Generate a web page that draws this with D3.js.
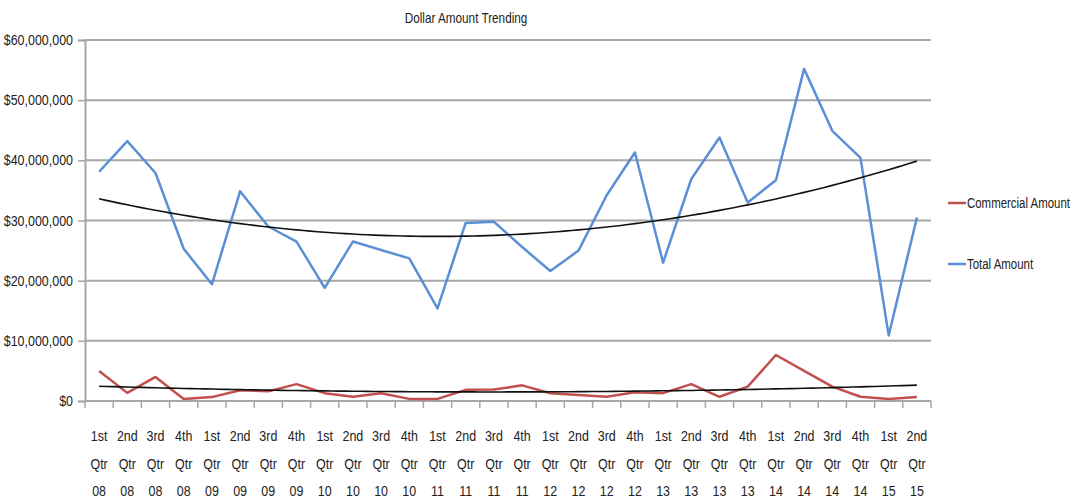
<!DOCTYPE html>
<html>
<head>
<meta charset="utf-8">
<script src="https://cdn.jsdelivr.net/npm/d3@7"></script>
<style>
  body { margin: 0; background: #fff; }
  svg { display: block; font-family: "Liberation Sans", Arial, sans-serif; }
</style>
</head>
<body>
<div id="chart"></div>
<script>
// quarters on the x axis
const categories = [
  '1st Qtr 08', '2nd Qtr 08', '3rd Qtr 08', '4th Qtr 08',
  '1st Qtr 09', '2nd Qtr 09', '3rd Qtr 09', '4th Qtr 09',
  '1st Qtr 10', '2nd Qtr 10', '3rd Qtr 10', '4th Qtr 10',
  '1st Qtr 11', '2nd Qtr 11', '3rd Qtr 11', '4th Qtr 11',
  '1st Qtr 12', '2nd Qtr 12', '3rd Qtr 12', '4th Qtr 12',
  '1st Qtr 13', '2nd Qtr 13', '3rd Qtr 13', '4th Qtr 13',
  '1st Qtr 14', '2nd Qtr 14', '3rd Qtr 14', '4th Qtr 14',
  '1st Qtr 15', '2nd Qtr 15'
];

// dollar amounts, in millions
const commercialAmount = [
  5.0, 1.35, 4.0, 0.35, 0.65, 1.8, 1.6, 2.8, 1.3, 0.7,
  1.3, 0.35, 0.35, 1.85, 1.9, 2.6, 1.3, 1.0, 0.7, 1.45,
  1.3, 2.8, 0.7, 2.4, 7.65, 5.0, 2.4, 0.7, 0.35, 0.65
];
const totalAmount = [
  38.1, 43.2, 37.9, 25.3, 19.4, 34.85, 29.0, 26.5, 18.8, 26.5,
  25.1, 23.7, 15.4, 29.6, 29.8, 25.6, 21.6, 25.0, 34.2, 41.3,
  23.0, 36.9, 43.8, 33.0, 36.7, 55.2, 44.9, 40.4, 10.9, 30.5
];

const yTicks = [0, 10, 20, 30, 40, 50, 60];

const series = [
  { name: 'Commercial Amount', values: commercialAmount, color: '#c0504d' },
  { name: 'Total Amount', values: totalAmount, color: '#5b8fd6' }
];

const width = 1075;
const height = 500;
const plot = { left: 85, right: 931, top: 40, bottom: 401 };
const squeeze = 0.86; // the original font is a condensed one

const svg = d3.select('#chart')
  .append('svg')
  .attr('width', width)
  .attr('height', height);

const x = d3.scaleBand().domain(categories).range([plot.left, plot.right]);
const y = d3.scaleLinear().domain([0, 60]).range([plot.bottom, plot.top]);
const cx = (c) => x(c) + x.bandwidth() / 2;

// continuous x for the trendlines (1..n)
const xt = d3.scaleLinear()
  .domain([1, categories.length])
  .range([cx(categories[0]), cx(categories[categories.length - 1])]);

// title
svg.append('text')
  .attr('transform', `translate(466,23) scale(0.84,1)`)
  .attr('text-anchor', 'middle')
  .attr('font-size', 14)
  .attr('fill', '#222')
  .text('Dollar Amount Trending');

// gridlines
svg.append('g')
  .selectAll('line')
  .data(yTicks)
  .enter()
  .append('line')
  .attr('x1', plot.left)
  .attr('x2', plot.right)
  .attr('y1', (d) => y(d))
  .attr('y2', (d) => y(d))
  .attr('stroke', '#a6a6a6')
  .attr('stroke-width', 2);

// y axis
const fmt = (d) => '$' + d3.format(',')(d * 1000000);
const yAxis = svg.append('g')
  .attr('transform', `translate(${plot.left},0)`)
  .call(d3.axisLeft(y).tickValues(yTicks).tickFormat(fmt).tickSize(7).tickPadding(4));
yAxis.select('.domain').attr('stroke', '#a6a6a6').attr('stroke-width', 2);
yAxis.selectAll('.tick line').attr('stroke', '#a6a6a6').attr('stroke-width', 1.5);
yAxis.selectAll('.tick text')
  .attr('font-size', 14.5)
  .attr('font-family', '"Liberation Sans", Arial, sans-serif')
  .attr('fill', '#222')
  .attr('x', -12 / squeeze)
  .attr('transform', `scale(${squeeze},1)`);

// x axis: ticks at the band edges
const edges = categories.map((c) => x(c)).concat([plot.right]);
const xAxis = svg.append('g');
xAxis.append('line')
  .attr('x1', plot.left)
  .attr('x2', plot.right)
  .attr('y1', plot.bottom)
  .attr('y2', plot.bottom)
  .attr('stroke', '#a6a6a6')
  .attr('stroke-width', 2);
xAxis.selectAll('.xtick')
  .data(edges)
  .enter()
  .append('line')
  .attr('class', 'xtick')
  .attr('x1', (d) => d)
  .attr('x2', (d) => d)
  .attr('y1', plot.bottom)
  .attr('y2', plot.bottom + 7)
  .attr('stroke', '#a6a6a6')
  .attr('stroke-width', 1.5);

const labels = xAxis.selectAll('.xlabel')
  .data(categories)
  .enter()
  .append('text')
  .attr('class', 'xlabel')
  .attr('transform', (d) => `translate(${cx(d)},0) scale(${squeeze},1)`)
  .attr('text-anchor', 'middle')
  .attr('font-size', 14.5)
  .attr('fill', '#222');
labels.selectAll('tspan')
  .data((d) => d.split(' '))
  .enter()
  .append('tspan')
  .attr('x', 0)
  .attr('y', (d, i) => 441 + i * 27.5)
  .text((d) => d);

// quadratic least-squares fit, like the spreadsheet's polynomial trendline
function polyFit(values) {
  const s = [0, 0, 0, 0, 0];
  const t = [0, 0, 0];
  values.forEach((v, i) => {
    const xi = i + 1;
    for (let k = 0; k < 5; k++) s[k] += Math.pow(xi, k);
    for (let k = 0; k < 3; k++) t[k] += v * Math.pow(xi, k);
  });
  const A = [
    [s[0], s[1], s[2], t[0]],
    [s[1], s[2], s[3], t[1]],
    [s[2], s[3], s[4], t[2]]
  ];
  for (let i = 0; i < 3; i++) {
    for (let j = i + 1; j < 3; j++) {
      const f = A[j][i] / A[i][i];
      for (let k = i; k < 4; k++) A[j][k] -= f * A[i][k];
    }
  }
  const c = [0, 0, 0];
  for (let i = 2; i >= 0; i--) {
    let sum = A[i][3];
    for (let k = i + 1; k < 3; k++) sum -= A[i][k] * c[k];
    c[i] = sum / A[i][i];
  }
  return (xv) => c[0] + c[1] * xv + c[2] * xv * xv;
}

const line = d3.line()
  .x((d, i) => cx(categories[i]))
  .y((d) => y(d));

series.forEach((s) => {
  svg.append('path')
    .datum(s.values)
    .attr('fill', 'none')
    .attr('stroke', s.color)
    .attr('stroke-width', 2.5)
    .attr('stroke-linejoin', 'round')
    .attr('d', line);
});

// trendlines
const trendLine = d3.line()
  .x((d) => xt(d[0]))
  .y((d) => y(d[1]));
series.forEach((s) => {
  const f = polyFit(s.values);
  const pts = d3.range(1, categories.length + 0.001, 0.25).map((v) => [v, f(v)]);
  svg.append('path')
    .datum(pts)
    .attr('fill', 'none')
    .attr('stroke', '#111')
    .attr('stroke-width', 1.6)
    .attr('d', trendLine);
});

// legend
const legend = svg.append('g');
const legendY = [203, 264];
series.forEach((s, i) => {
  legend.append('line')
    .attr('x1', 948)
    .attr('x2', 966)
    .attr('y1', legendY[i])
    .attr('y2', legendY[i])
    .attr('stroke', s.color)
    .attr('stroke-width', 2.5);
  legend.append('text')
    .attr('transform', `translate(967,${legendY[i] + 5}) scale(0.79,1)`)
    .attr('font-size', 14.5)
    .attr('fill', '#222')
    .text(s.name);
});
</script>
</body>
</html>
